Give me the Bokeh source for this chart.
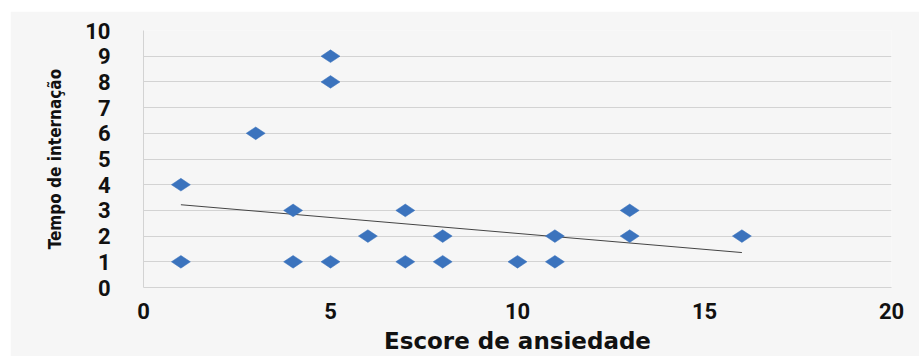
import numpy as np
from bokeh.plotting import figure
from bokeh.models import FixedTicker, Range1d
from bokeh.embed import file_html
from bokeh.resources import INLINE

# Anxiety score vs. length of hospital stay
escore = [1, 1, 3, 4, 4, 5, 5, 5, 6, 7, 7, 8, 8, 10, 11, 11, 13, 13, 16]
tempo = [4, 1, 6, 3, 1, 9, 8, 1, 2, 3, 1, 2, 1, 1, 2, 1, 3, 2, 2]

# Linear trend line end points
trend_x = [1, 16]
trend_y = [3.22, 1.36]

x_ticks = [0, 5, 10, 15, 20]
y_ticks = [0, 1, 2, 3, 4, 5, 6, 7, 8, 9, 10]

BG = "#f6f6f6"
GRID = "#d3d3d3"

p = figure(
    width=909, height=345,
    x_range=Range1d(0, 20), y_range=Range1d(0, 10),
    output_backend="svg", toolbar_location=None,
    min_border_left=133, min_border_right=28,
    min_border_top=19, min_border_bottom=69,
    background_fill_color=BG, border_fill_color=BG,
)
p.margin = (11, 0, 0, 10)
p.outline_line_color = None

p.xgrid.grid_line_color = None
p.ygrid.grid_line_color = GRID
p.ygrid.grid_line_width = 1

p.xaxis.ticker = FixedTicker(ticks=x_ticks)
p.yaxis.ticker = FixedTicker(ticks=y_ticks)

for ax in (p.xaxis, p.yaxis):
    ax.axis_line_color = GRID
    ax.major_tick_line_color = None
    ax.minor_tick_line_color = None
    ax.major_tick_in = 0
    ax.major_tick_out = 0
    ax.major_label_text_font = "Roboto"
    ax.major_label_text_font_style = "bold"
    ax.major_label_text_font_size = "22px"
    ax.major_label_text_color = "#111111"
    ax.axis_label_text_color = "#111111"
    ax.axis_label_text_font_style = "bold"

p.yaxis.major_label_standoff = 33
p.xaxis.major_label_standoff = 15

p.xaxis.axis_label = "Escore de ansiedade"
p.xaxis.axis_label_text_font = "DejaVu Sans"
p.xaxis.axis_label_text_font_size = "23px"
p.xaxis.axis_label_standoff = 6

p.yaxis.axis_label = "Tempo de internação"
p.yaxis.axis_label_text_font = "DejaVu Sans Condensed"
p.yaxis.axis_label_text_font_size = "17px"
p.yaxis.axis_label_standoff = 17

# Trend line
p.line(trend_x, trend_y, line_color="#444444", line_width=1)

# Data points: flattened diamonds
p.scatter(
    escore, tempo, marker="diamond", size=19, angle=np.pi / 2,
    fill_color="#3b73bd", line_color="#3b73bd", line_width=0.5,
)

open("out.html", "w").write(file_html(p, INLINE))
